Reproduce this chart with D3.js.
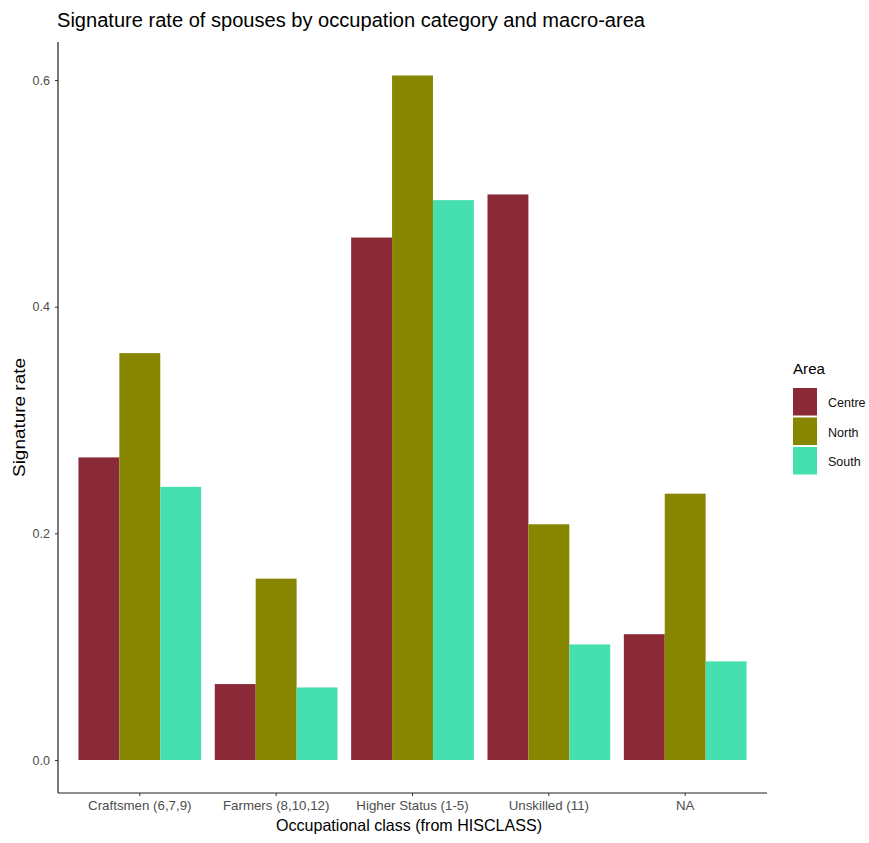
<!DOCTYPE html>
<html><head><meta charset="utf-8">
<script src="https://cdn.jsdelivr.net/npm/d3@7"></script>
<style>body{margin:0;background:#fff;} text{font-family:"Liberation Sans",Arial,sans-serif;}</style>
</head><body>
<svg id="c" width="869" height="843"></svg>
<script>
const categories = ["Craftsmen (6,7,9)", "Farmers (8,10,12)", "Higher Status (1-5)", "Unskilled (11)", "NA"];
const areas = ["Centre", "North", "South"];
const centre = [0.267, 0.067, 0.461, 0.499, 0.111];
const north  = [0.359, 0.160, 0.604, 0.208, 0.235];
const south  = [0.241, 0.064, 0.494, 0.102, 0.087];
const yTicks = [0.0, 0.2, 0.4, 0.6];
const colors = ["#8B2A37", "#878600", "#46DFAF"];

(function () {
const series = [centre, north, south];
const svg = d3.select("#c");
const pLeft = 58, pRight = 767, pTop = 42, pBottom = 793;

const x = d3.scaleBand().domain(categories).range([pLeft, pRight]).paddingInner(0.1).paddingOuter(0.15);
const xs = d3.scaleBand().domain(areas).range([0, x.bandwidth()]);
const y = d3.scaleLinear().domain([0, 0.6]).range([760, 80]);

const data = [];
categories.forEach((c, i) => areas.forEach((a, j) => data.push({c, a, v: series[j][i], j})));

svg.append("g").selectAll("rect").data(data).enter().append("rect")
  .attr("x", d => x(d.c) + xs(d.a))
  .attr("width", xs.bandwidth())
  .attr("y", d => y(d.v))
  .attr("height", d => y(0) - y(d.v))
  .attr("fill", d => colors[d.j]);

const yAxis = svg.append("g").attr("transform", `translate(${pLeft},0)`)
  .call(d3.axisLeft(y).tickValues(yTicks).tickFormat(d3.format(".1f")).tickSize(3).tickPadding(5));
yAxis.select(".domain").remove();
yAxis.selectAll(".tick text").style("font-size", "12.5px");
svg.append("line").attr("x1", pLeft).attr("x2", pLeft).attr("y1", pTop).attr("y2", pBottom).attr("stroke", "#222").attr("stroke-width", 1.2);
const xAxis = svg.append("g").attr("transform", `translate(0,${pBottom})`)
  .call(d3.axisBottom(x).tickSize(3).tickPadding(5));
xAxis.select(".domain").remove();
xAxis.selectAll(".tick text").style("font-size", "13.3px");
svg.append("line").attr("x1", pLeft).attr("x2", pRight).attr("y1", pBottom).attr("y2", pBottom).attr("stroke", "#222").attr("stroke-width", 1.2);
svg.selectAll(".tick line").attr("stroke", "#333");
svg.selectAll(".tick text").attr("fill", "#4d4d4d").style("font-family", "Liberation Sans, Arial, sans-serif");

svg.append("text").attr("x", 57).attr("y", 27).style("font-size", "20px").attr("fill", "#000")
  .attr("textLength", 588).attr("lengthAdjust", "spacingAndGlyphs")
  .text("Signature rate of spouses by occupation category and macro-area");
svg.append("text").attr("x", 409).attr("y", 831).attr("text-anchor", "middle").style("font-size", "16.5px")
  .attr("textLength", 266).attr("lengthAdjust", "spacingAndGlyphs")
  .text("Occupational class (from HISCLASS)");
svg.append("text").attr("transform", "translate(25,417.5) rotate(-90)").attr("text-anchor", "middle").style("font-size", "17px")
  .attr("textLength", 119).attr("lengthAdjust", "spacingAndGlyphs")
  .text("Signature rate");

const lg = svg.append("g").attr("transform", "translate(793,0)");
lg.append("text").attr("x", 0).attr("y", 374).style("font-size", "15.5px")
  .attr("textLength", 32).attr("lengthAdjust", "spacingAndGlyphs").text("Area");
areas.forEach((a, j) => {
  lg.append("rect").attr("x", 0).attr("y", 388 + j * 29.5).attr("width", 24).attr("height", 27.5).attr("fill", colors[j]);
  lg.append("text").attr("x", 35).attr("y", 388 + j * 29.5 + 19).style("font-size", "12.5px").attr("fill", "#111").text(a);
});
})();
</script>
</body></html>
